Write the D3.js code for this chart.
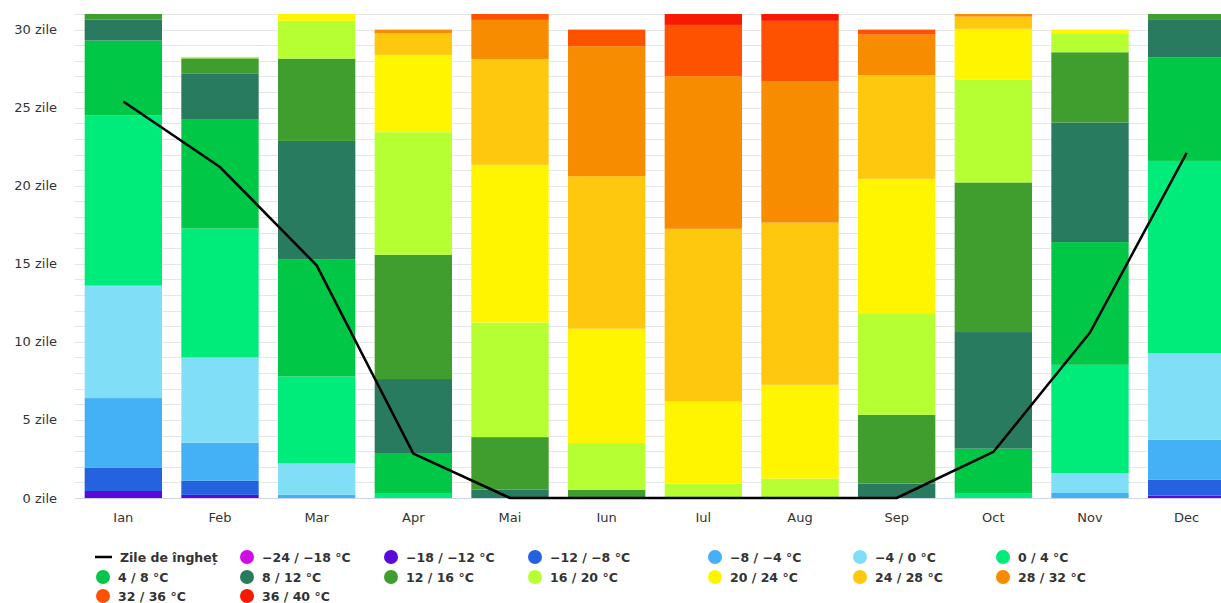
<!DOCTYPE html>
<html>
<head>
<meta charset="utf-8">
<script src="https://cdn.jsdelivr.net/npm/d3@7"></script>
<style>
  body { margin: 0; background: #fff; }
  svg { display: block; font-family: "DejaVu Sans", sans-serif; }
</style>
</head>
<body>
<svg width="1221" height="603"></svg>
<script>
var months = ["Ian", "Feb", "Mar", "Apr", "Mai", "Iun", "Iul", "Aug", "Sep", "Oct", "Nov", "Dec"];

// zile pe luna in fiecare interval de temperatura (jos -> sus)
var bands = ["−24 / −18 °C", "−18 / −12 °C", "−12 / −8 °C", "−8 / −4 °C", "−4 / 0 °C", "0 / 4 °C",
    "4 / 8 °C", "8 / 12 °C", "12 / 16 °C", "16 / 20 °C", "20 / 24 °C", "24 / 28 °C",
    "28 / 32 °C", "32 / 36 °C", "36 / 40 °C"];
var colors = ["#d10ce8", "#5b09d8", "#2562e0", "#44b0f5", "#80dff7", "#00ec7a", "#00c846", "#287b5f",
    "#3f9e2e", "#b5ff33", "#fff500", "#fec80e", "#f78c00", "#ff5200", "#f61a00"];

var m24 = [0, 0, 0, 0, 0, 0, 0, 0, 0, 0, 0, 0];
var m18 = [0.45, 0.2, 0, 0, 0, 0, 0, 0, 0, 0, 0, 0.15];
var m12 = [1.5, 0.9, 0, 0, 0, 0, 0, 0, 0, 0, 0, 1.02];
var m8 = [4.45, 2.45, 0.21, 0, 0, 0, 0, 0, 0, 0, 0.32, 2.56];
var m4 = [7.2, 5.45, 2.03, 0, 0, 0, 0, 0, 0, 0, 1.28, 5.55];
var p0 = [10.9, 8.26, 5.54, 0.32, 0, 0, 0, 0, 0, 0.32, 6.93, 12.31];
var p4 = [4.8, 6.97, 7.52, 2.56, 0, 0, 0, 0, 0, 2.84, 7.86, 6.62];
var p8 = [1.35, 2.97, 7.57, 4.74, 0.53, 0, 0, 0, 0.92, 7.47, 7.66, 2.41];
var p12 = [0.35, 0.96, 5.27, 7.96, 3.37, 0.53, 0, 0, 4.41, 9.58, 4.5, 0.38];
var p16 = [0, 0.09, 2.42, 7.85, 7.34, 2.99, 0.92, 1.24, 6.51, 6.57, 1.22, 0];
var p20 = [0, 0, 0.44, 4.95, 10.1, 7.32, 5.26, 6.01, 8.6, 3.27, 0.23, 0];
var p24 = [0, 0, 0, 1.39, 6.78, 9.77, 11.06, 10.39, 6.64, 0.78, 0, 0];
var p28 = [0, 0, 0, 0.23, 2.5, 8.33, 9.78, 9.06, 2.6, 0.17, 0, 0];
var p32 = [0, 0, 0, 0, 0.38, 1.06, 3.28, 3.86, 0.32, 0, 0, 0];
var p36 = [0, 0, 0, 0, 0, 0, 0.7, 0.44, 0, 0, 0, 0];

// zile de inghet
var frost = [25.4, 21.2, 14.9, 2.84, 0, 0, 0, 0, 0, 2.95, 10.6, 22.1];

var yTicks = [0, 5, 10, 15, 20, 25, 30];

var series = [m24, m18, m12, m8, m4, p0, p4, p8, p12, p16, p20, p24, p28, p32, p36];

var svg = d3.select("svg");
var margin = { left: 75, top: 14, bottom: 498 };
var plotRight = 1235; // chart is a bit wider than the window

var x = d3.scaleBand().domain(months).range([margin.left, plotRight]).paddingInner(0.2).paddingOuter(0.1);
var y = d3.scaleLinear().domain([0, 31]).range([margin.bottom, margin.top]);

// table for the stack
var table = months.map(function (m, i) {
    var row = { month: m };
    series.forEach(function (s, k) { row[k] = s[i]; });
    return row;
});
var stack = d3.stack().keys(d3.range(series.length))(table);

// grid, one line per day
svg.append("g")
    .selectAll("line")
    .data(d3.range(1, 32))
    .enter()
    .append("line")
    .attr("x1", margin.left)
    .attr("x2", plotRight)
    .attr("y1", d => Math.round(y(d)) + 0.5)
    .attr("y2", d => Math.round(y(d)) + 0.5)
    .attr("stroke", "#e6e6e6")
    .attr("stroke-width", 1);

// y labels
svg.append("g")
    .selectAll("text")
    .data(yTicks)
    .enter()
    .append("text")
    .attr("x", 57)
    .attr("y", d => y(d) + 4.5)
    .attr("text-anchor", "end")
    .attr("font-size", 13)
    .attr("fill", "#333")
    .text(d => d + " zile");

// bars
svg.append("g")
    .selectAll("g")
    .data(stack)
    .enter()
    .append("g")
    .attr("fill", (d, i) => colors[i])
    .selectAll("rect")
    .data(d => d.filter(p => p[1] - p[0] > 0))
    .enter()
    .append("rect")
    .attr("x", d => x(d.data.month))
    .attr("width", x.bandwidth())
    .attr("y", d => y(d[1]))
    .attr("height", d => y(d[0]) - y(d[1]));

// x axis line
svg.append("line")
    .attr("x1", margin.left)
    .attr("x2", plotRight)
    .attr("y1", margin.bottom + 0.5)
    .attr("y2", margin.bottom + 0.5)
    .attr("stroke", "#ccd6eb");

svg.append("g")
    .selectAll("text")
    .data(months)
    .enter()
    .append("text")
    .attr("x", d => x(d) + x.bandwidth() / 2)
    .attr("y", 522)
    .attr("text-anchor", "middle")
    .attr("font-size", 13)
    .attr("fill", "#333")
    .text(d => d);

// frost line
var line = d3.line()
    .x((d, i) => x(months[i]) + x.bandwidth() / 2)
    .y(d => y(d));

svg.append("path")
    .datum(frost)
    .attr("d", line)
    .attr("fill", "none")
    .attr("stroke", "#000")
    .attr("stroke-width", 2.5)
    .attr("stroke-linejoin", "round");

// legend
var legendCols = [103, 247, 391, 535, 715, 860, 1003];
var legendRows = [557, 577, 596];
var items = [{ name: "Zile de îngheț", line: true }].concat(bands.map((b, i) => ({ name: b, color: colors[i] })));

var leg = svg.append("g")
    .selectAll("g")
    .data(items)
    .enter()
    .append("g")
    .attr("transform", (d, i) => "translate(" + legendCols[i % 7] + "," + legendRows[Math.floor(i / 7)] + ")");

leg.filter(d => d.line)
    .append("line")
    .attr("x1", -8).attr("x2", 9)
    .attr("stroke", "#000")
    .attr("stroke-width", 2.5);

leg.filter(d => !d.line)
    .append("circle")
    .attr("r", 7)
    .attr("fill", d => d.color);

leg.append("text")
    .attr("x", d => d.line ? 17 : 15)
    .attr("y", 4.5)
    .attr("font-size", 12.5)
    .attr("font-weight", "bold")
    .attr("fill", "#333")
    .text(d => d.name);
</script>
</body>
</html>
